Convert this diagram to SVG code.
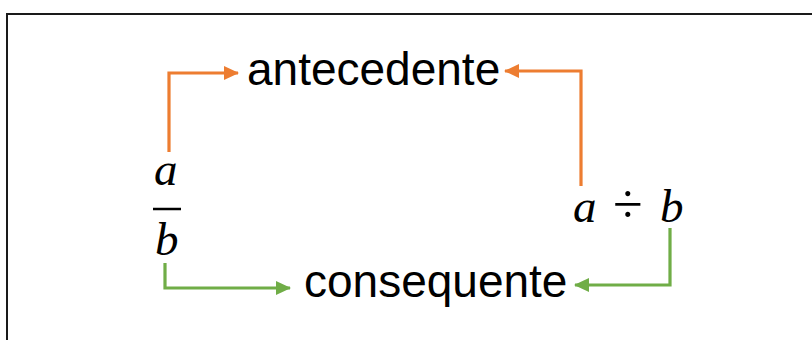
<svg xmlns="http://www.w3.org/2000/svg" width="812" height="340" viewBox="0 0 812 340">
  <style>
    .word { font-family: "Liberation Sans", Arial, sans-serif; font-size: 46px; fill: #000; }
    .math { font-family: "Liberation Serif", "Times New Roman", serif; font-style: italic; font-size: 47px; fill: #000; }
    .op { font-family: "Liberation Serif", "Times New Roman", serif; font-size: 54px; fill: #000; }
    .orange { fill: none; stroke: #ED7D31; stroke-width: 3.2; marker-end: url(#headOrange); }
    .green { fill: none; stroke: #70AD47; stroke-width: 3.2; marker-end: url(#headGreen); }
  </style>
  <defs>
    <marker id="headOrange" markerUnits="userSpaceOnUse" markerWidth="16" markerHeight="16" refX="14" refY="8" viewBox="0 0 16 16" orient="auto">
      <path d="M0,1 L15,8 L0,15 Z" fill="#ED7D31"/>
    </marker>
    <marker id="headGreen" markerUnits="userSpaceOnUse" markerWidth="16" markerHeight="16" refX="14" refY="8" viewBox="0 0 16 16" orient="auto">
      <path d="M0,1 L15,8 L0,15 Z" fill="#70AD47"/>
    </marker>
  </defs>

  <rect width="812" height="340" fill="#fff"/>
  <!-- frame: top and left edges -->
  <path d="M7,340 V14 H812" fill="none" stroke="#1a1a1a" stroke-width="2"/>

  <g id="antecedente">
    <text class="word" x="247" y="85">antecedente</text>
  </g>
  <g id="consequente">
    <text class="word" x="304" y="297">consequente</text>
  </g>
  <g id="fraction">
    <text class="math" x="154" y="185">a</text>
    <line x1="153" y1="209" x2="181" y2="209" stroke="#000" stroke-width="2.5"/>
    <text class="math" x="155" y="255">b</text>
  </g>
  <g id="division">
    <text class="math" x="573" y="222">a</text>
    <text class="op" x="613" y="222">÷</text>
    <text class="math" x="660" y="222">b</text>
  </g>

  <g id="connectors">
    <path class="orange" d="M169,152 V73 H238"/>
    <path class="orange" d="M581,186 V71 H505"/>
    <path class="green" d="M165,263 V288 H290"/>
    <path class="green" d="M670,228 V285 H575"/>
  </g>
</svg>
